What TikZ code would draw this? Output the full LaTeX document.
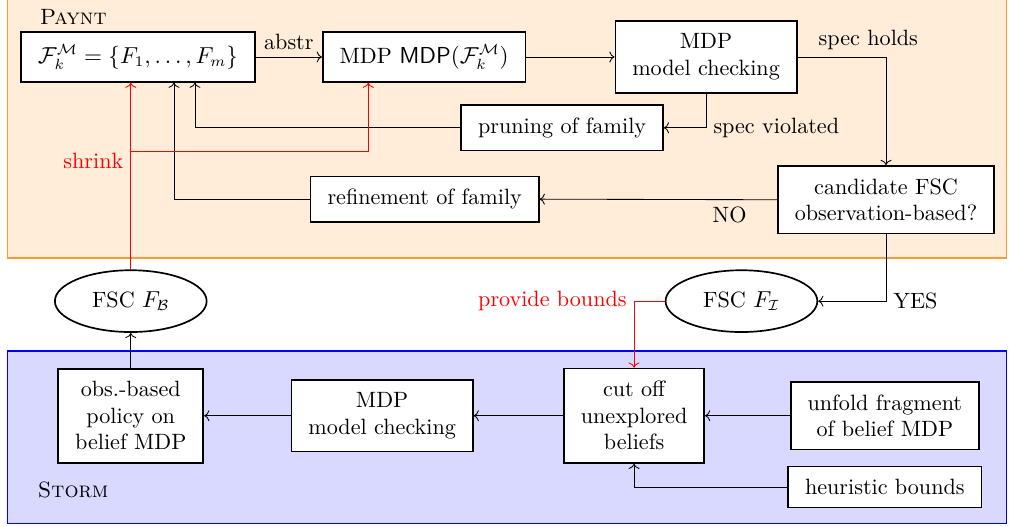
\documentclass[tikz,border=0pt]{standalone}
\usepackage{amsmath,amssymb}
\usepackage{tikz}
\usetikzlibrary{arrows.meta,positioning,calc,shapes.geometric}

\begin{document}
\begin{tikzpicture}[
  font=\fontsize{10.5}{12.6}\selectfont,
  box/.style={rectangle,draw,thick,fill=white,align=center,
              inner xsep=8pt,inner ysep=6pt},
  fsc/.style={ellipse,draw,thick,fill=white,
              minimum width=2.53cm,minimum height=1.03cm},
  arr/.style={->},
  redarr/.style={->,red}
]
  \useasboundingbox (0,0) rectangle (16.82,-8.78);
  \draw[orange!80,semithick,fill=orange!15] (0.13,0.3) rectangle (16.78,-4.3);
  \draw[blue,semithick,fill=blue!15] (0.13,-5.85) rectangle (16.78,-8.73);
  \node (paynt) at (1.22,-0.28) {\textsc{Paynt}};
  \node (storm) at (1.22,-8.17) {\textsc{Storm}};

  % synthesis loop
  \node[box] (F)      at (2.30,-0.95) {$\mathcal{F}^{\mathcal{M}}_k = \{F_1,\ldots,F_m\}$};
  \node[box] (mdpF)   at (7.07,-0.95) {MDP $\mathsf{MDP}(\mathcal{F}^{\mathcal{M}}_k)$};
  \node[box] (mc)     at (11.77,-0.95) {MDP\\model checking};
  \node[box] (prune)  at (9.37,-2.13) {pruning of family};
  \node[box] (cand)   at (14.77,-3.33) {candidate FSC\\observation-based?};
  \node[box] (refine) at (7.08,-3.32) {refinement of family};

  \node[fsc] (fscB) at (2.18,-5.02) {FSC $F_{\mathcal{B}}$};
  \node[fsc] (fscI) at (12.36,-5.02) {FSC $F_{\mathcal{I}}$};

  % belief exploration
  \node[box] (obs)    at (2.18,-6.93) {obs.-based\\policy on\\belief MDP};
  \node[box] (mcB)    at (6.37,-6.93) {MDP\\model checking};
  \node[box] (cut)    at (10.57,-6.93) {cut off\\unexplored\\beliefs};
  \node[box] (unfold) at (14.75,-6.93) {unfold fragment\\of belief MDP};
  \node[box] (heur)   at (14.75,-8.12) {heuristic bounds};

  \draw[arr] (F)--(mdpF) node[midway,above] (abs) {abstr};
  \draw[arr] (mdpF)--(mc);
  \draw[arr] (mc.east) -| (cand.north) node[pos=0.4,above] (hold) {spec holds};
  \draw[arr] (mc.south) |- (prune.east) node[pos=0.5,right] (viol) {spec violated};
  \draw[arr] (prune.west) -| ([xshift=0.95cm]F.south);
  \draw[arr] (cand.west)--(refine.east) node[pos=0.2,below] (no) {NO};
  \draw[arr] (refine.west) -| ([xshift=0.6cm]F.south);
  \draw[arr] (cand.south) |- (fscI.east) node[pos=0.5,right] (yes) {YES};

  \coordinate (split) at ($(fscB.north)!0.63!(fscB.north |- F.south)$);
  \draw[redarr] (fscB.north) -- (fscB.north |- F.south)
    node[pos=0.58,left] (shr) {shrink};
  \draw[redarr] (split) -| ([xshift=-0.93cm]mdpF.south);
  \draw[redarr] (fscI.west) -| (cut.north) node[pos=0.5,left] (prov) {provide bounds};

  \draw[arr] (obs)--(fscB);
  \draw[arr] (mcB)--(obs);
  \draw[arr] (cut)--(mcB);
  \draw[arr] (unfold)--(cut);
  \draw[arr] (heur.west) -| (cut.south);
\end{tikzpicture}
\end{document}
